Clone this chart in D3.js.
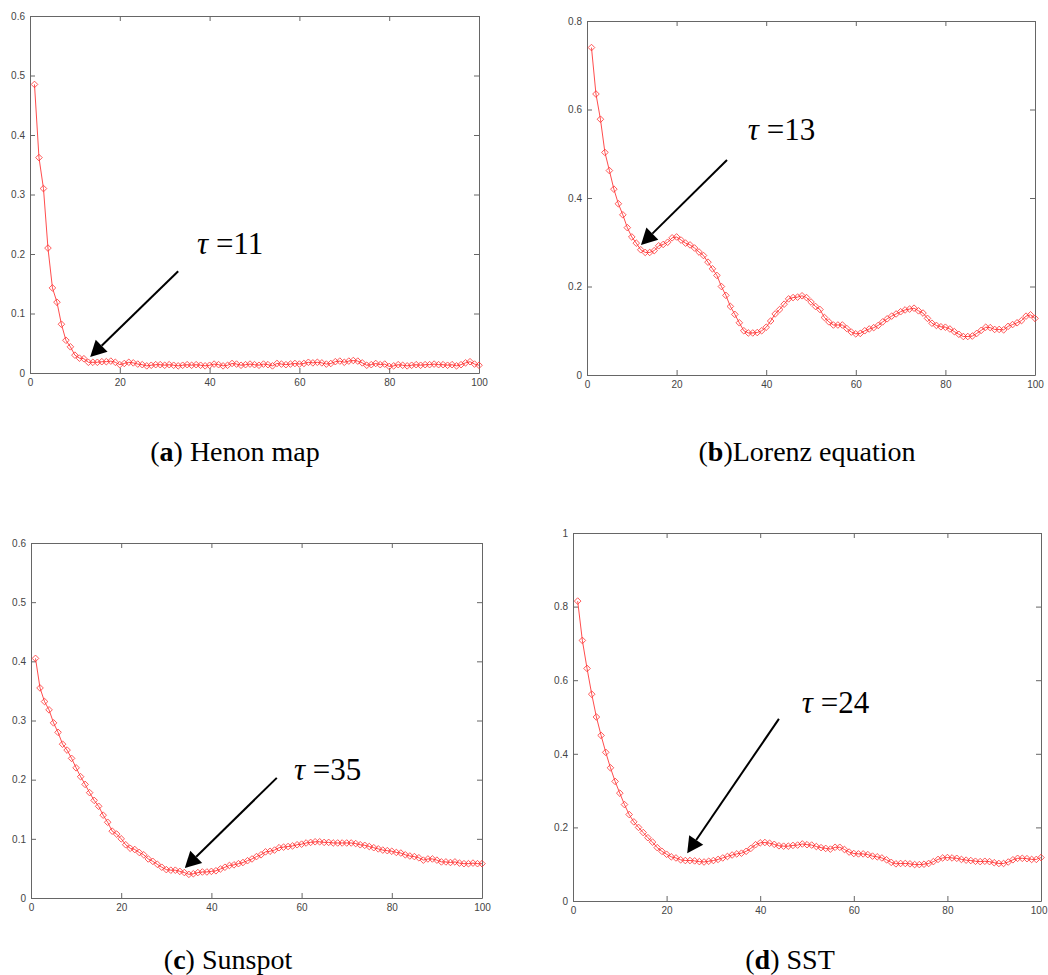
<!DOCTYPE html>
<html>
<head>
<meta charset="utf-8">
<script src="https://cdn.jsdelivr.net/npm/d3@7"></script>
<style>
  body { margin: 0; background: #fff; }
  svg { display: block; }
  .axis path, .axis line { stroke: #666; }
  .axis text { font-family: "Liberation Sans", Arial, sans-serif; font-size: 10px; fill: #444; }
</style>
</head>
<body>
<div id="chart"></div>
<script>
// lag values 1..100 on every panel
const lags = d3.range(1, 101);

const henon = [0.485, 0.362, 0.31, 0.21, 0.143, 0.119, 0.082, 0.055, 0.044, 0.03,
  0.025, 0.024, 0.018, 0.018, 0.018, 0.019, 0.019, 0.02, 0.018, 0.014,
  0.016, 0.018, 0.017, 0.015, 0.014, 0.012, 0.013, 0.014, 0.014, 0.013,
  0.014, 0.013, 0.012, 0.013, 0.014, 0.013, 0.014, 0.013, 0.012, 0.013,
  0.015, 0.014, 0.012, 0.013, 0.016, 0.015, 0.013, 0.014, 0.015, 0.014,
  0.013, 0.015, 0.014, 0.012, 0.016, 0.015, 0.014, 0.015, 0.016, 0.015,
  0.016, 0.018, 0.017, 0.018, 0.017, 0.015, 0.016, 0.019, 0.02, 0.018,
  0.02, 0.021, 0.02, 0.017, 0.013, 0.014, 0.016, 0.014, 0.015, 0.011,
  0.012, 0.014, 0.013, 0.012, 0.013, 0.014, 0.013, 0.014, 0.014, 0.015,
  0.014, 0.014, 0.013, 0.014, 0.012, 0.014, 0.017, 0.019, 0.015, 0.013];

const lorenz = [0.74, 0.635, 0.578, 0.503, 0.462, 0.42, 0.387, 0.362, 0.333, 0.312,
  0.298, 0.283, 0.277, 0.277, 0.281, 0.292, 0.295, 0.3, 0.31, 0.312,
  0.305, 0.298, 0.294, 0.287, 0.278, 0.27, 0.255, 0.24, 0.225, 0.2,
  0.18, 0.155, 0.137, 0.118, 0.1, 0.095, 0.095, 0.096, 0.1, 0.108,
  0.122, 0.138, 0.148, 0.16, 0.172, 0.175, 0.176, 0.179, 0.175, 0.165,
  0.155, 0.148, 0.13, 0.12, 0.113, 0.113, 0.113, 0.105, 0.097, 0.093,
  0.094, 0.1, 0.104, 0.107, 0.112, 0.12, 0.127, 0.133, 0.138, 0.143,
  0.147, 0.149, 0.151, 0.145, 0.14, 0.128, 0.117, 0.112, 0.109, 0.108,
  0.104, 0.098, 0.092, 0.087, 0.087, 0.088, 0.094, 0.101, 0.108, 0.107,
  0.103, 0.103, 0.102, 0.11, 0.114, 0.118, 0.123, 0.133, 0.136, 0.128];

const sunspot = [0.405, 0.355, 0.332, 0.318, 0.296, 0.28, 0.26, 0.25, 0.236, 0.22,
  0.205, 0.192, 0.178, 0.165, 0.155, 0.14, 0.128, 0.113, 0.108, 0.1,
  0.09, 0.084, 0.082, 0.077, 0.073, 0.066, 0.062, 0.057, 0.052, 0.048,
  0.047, 0.047, 0.045, 0.043, 0.04, 0.041, 0.043, 0.044, 0.044, 0.045,
  0.046, 0.049, 0.052, 0.055, 0.056, 0.058, 0.06, 0.063, 0.066, 0.07,
  0.073, 0.078, 0.079, 0.081, 0.085, 0.086, 0.087, 0.088, 0.09, 0.091,
  0.093, 0.094, 0.095, 0.095, 0.094, 0.094, 0.093, 0.093, 0.093, 0.093,
  0.093, 0.092, 0.09, 0.089, 0.087, 0.085, 0.083, 0.081, 0.08, 0.079,
  0.077, 0.076, 0.073, 0.071, 0.07, 0.068, 0.064, 0.066, 0.066, 0.064,
  0.061, 0.061, 0.06, 0.061, 0.059, 0.058, 0.058, 0.059, 0.058, 0.058];

const sst = [0.815, 0.708, 0.632, 0.562, 0.5, 0.45, 0.404, 0.362, 0.325, 0.293,
  0.262, 0.235, 0.215, 0.2, 0.186, 0.172, 0.16, 0.145, 0.135, 0.127,
  0.12, 0.117, 0.112, 0.11, 0.11, 0.109, 0.107, 0.106, 0.108, 0.11,
  0.113, 0.117, 0.121, 0.125, 0.128, 0.13, 0.135, 0.143, 0.153, 0.158,
  0.159, 0.157, 0.154, 0.15, 0.149, 0.149, 0.151, 0.152, 0.155, 0.153,
  0.152, 0.148, 0.145, 0.143, 0.141, 0.146, 0.146, 0.14, 0.133, 0.129,
  0.128, 0.128, 0.126, 0.122, 0.12, 0.117, 0.112, 0.105, 0.101, 0.102,
  0.102, 0.101, 0.099, 0.099, 0.1, 0.102, 0.107, 0.113, 0.117, 0.118,
  0.117, 0.116, 0.113, 0.111, 0.11, 0.108, 0.107, 0.108, 0.107, 0.104,
  0.102, 0.102, 0.106, 0.112, 0.116, 0.116, 0.115, 0.113, 0.113, 0.118];

const xTicks = [0, 20, 40, 60, 80, 100];
const yMaxes = [0.6, 0.8, 0.6, 1];
const yTicksA = [0, 0.1, 0.2, 0.3, 0.4, 0.5, 0.6];
const yTicksB = [0, 0.2, 0.4, 0.6, 0.8];
const yTicksD = [0, 0.2, 0.4, 0.6, 0.8, 1];

const tauLabels = ['11', '13', '35', '24'];
// arrow tip, arrow tail, label anchor (data units)
const arrowTips = [[13.4, 0.027], [12.05, 0.294], [34.1, 0.0507], [24.4, 0.13]];
const arrowTails = [[33, 0.171], [31.25, 0.486], [54.5, 0.203], [44, 0.495]];
const labelAt = [[37.2, 0.2], [35.9, 0.531], [58.3, 0.2], [48.9, 0.511]];

const captionLetters = ['a', 'b', 'c', 'd'];
const captionTexts = [' Henon map', 'Lorenz equation', ' Sunspot', ' SST'];

const W = 1048, H = 975;
const svg = d3.select('#chart').append('svg').attr('width', W).attr('height', H);

// panel boxes in pixels
const boxes = [
  { l: 30, t: 16, r: 479, b: 373, cx: 235, cy: 461 },
  { l: 587, t: 21, r: 1035, b: 375, cx: 807, cy: 461 },
  { l: 31, t: 543, r: 482, b: 898, cx: 228, cy: 969 },
  { l: 573, t: 533, r: 1041, b: 901, cx: 790, cy: 969 }
];
const series = [henon, lorenz, sunspot, sst];
const yTickSets = [yTicksA, yTicksB, yTicksA, yTicksD];
const fmt = d3.format('~g');

function diamond(s) {
  return `M0,${-s}L${s},0L0,${s}L${-s},0Z`;
}

boxes.forEach((bx, i) => {
  const x = d3.scaleLinear([0, 100], [bx.l, bx.r]);
  const y = d3.scaleLinear([0, yMaxes[i]], [bx.b, bx.t]);
  const g = svg.append('g');

  const xAxisDraw = g.append('g').attr('class', 'axis')
    .attr('transform', `translate(0,${bx.b})`)
    .call(d3.axisBottom(x).tickValues(xTicks).tickFormat(fmt).tickSizeInner(-5).tickSizeOuter(0).tickPadding(6));
  // keep the last label inside the page on the right-hand panels
  if (bx.r > W - 12) {
    xAxisDraw.selectAll('.tick:last-of-type text').attr('text-anchor', 'end').attr('dx', W - bx.r - 1 + 'px').attr('x', 0);
  }
  g.append('g').attr('class', 'axis')
    .attr('transform', `translate(0,${bx.t})`)
    .call(d3.axisTop(x).tickValues(xTicks).tickFormat('').tickSizeInner(-5).tickSizeOuter(0));
  g.append('g').attr('class', 'axis')
    .attr('transform', `translate(${bx.l},0)`)
    .call(d3.axisLeft(y).tickValues(yTickSets[i]).tickFormat(fmt).tickSizeInner(-5).tickSizeOuter(0).tickPadding(5));
  g.append('g').attr('class', 'axis')
    .attr('transform', `translate(${bx.r},0)`)
    .call(d3.axisRight(y).tickValues(yTickSets[i]).tickFormat('').tickSizeInner(-5).tickSizeOuter(0));

  const data = lags.map((d, k) => [d, series[i][k]]);
  g.append('path').datum(data)
    .attr('fill', 'none').attr('stroke', '#ff2020').attr('stroke-width', 0.8)
    .attr('d', d3.line().x(d => x(d[0])).y(d => y(d[1])));
  g.selectAll('.mk').data(data).join('path')
    .attr('class', 'mk')
    .attr('transform', d => `translate(${x(d[0])},${y(d[1])})`)
    .attr('d', diamond(3.3))
    .attr('fill', 'none').attr('stroke', '#ff3030').attr('stroke-width', 0.8);

  // arrow annotation
  const tip = [x(arrowTips[i][0]), y(arrowTips[i][1])];
  const tail = [x(arrowTails[i][0]), y(arrowTails[i][1])];
  const ang = Math.atan2(tip[1] - tail[1], tip[0] - tail[0]);
  const hl = 16, hw = 8.5;
  const base = [tip[0] - hl * Math.cos(ang), tip[1] - hl * Math.sin(ang)];
  g.append('line')
    .attr('x1', tail[0]).attr('y1', tail[1]).attr('x2', base[0]).attr('y2', base[1])
    .attr('stroke', '#000').attr('stroke-width', 2);
  const p1 = [base[0] + hw * Math.sin(ang), base[1] - hw * Math.cos(ang)];
  const p2 = [base[0] - hw * Math.sin(ang), base[1] + hw * Math.cos(ang)];
  g.append('path')
    .attr('d', `M${tip}L${p1}L${p2}Z`).attr('fill', '#000');
  const lbl = g.append('text')
    .attr('x', x(labelAt[i][0])).attr('y', y(labelAt[i][1]))
    .style('font-family', '"Liberation Serif", "Times New Roman", serif')
    .style('font-size', '31px');
  lbl.append('tspan').style('font-style', 'italic').text('τ');
  lbl.append('tspan').text(` =${tauLabels[i]}`);

  // caption
  const cap = svg.append('text')
    .attr('x', bx.cx).attr('y', bx.cy).attr('text-anchor', 'middle')
    .style('font-family', '"Liberation Serif", "Times New Roman", serif')
    .style('font-size', '28px');
  cap.append('tspan').text('(');
  cap.append('tspan').style('font-weight', 'bold').text(captionLetters[i]);
  cap.append('tspan').text(')' + captionTexts[i]);
});
</script>
</body>
</html>
